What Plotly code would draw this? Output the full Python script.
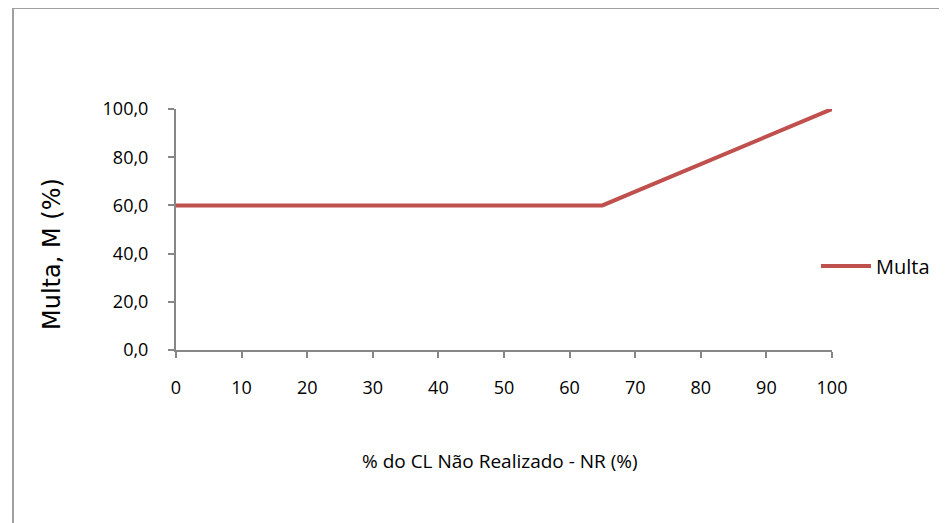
import plotly.graph_objects as go

# Data
nr_percent = [0, 65, 70, 75, 80, 85, 90, 95, 100]
multa = [60.0, 60.0, 65.7, 71.4, 77.1, 82.9, 88.6, 94.3, 100.0]
x_ticks = [0, 10, 20, 30, 40, 50, 60, 70, 80, 90, 100]
y_ticks = [0, 20, 40, 60, 80, 100]
series_name = "Multa"

OFF = 8  # browser default body margin
W, H = 947 - OFF, 523 - OFF
L, R, T, B = 176 - OFF, 832 - OFF, 109 - OFF, 350 - OFF  # plot area pixel bounds
pw, ph = R - L, B - T

def px(xp):
    return (xp - OFF - L) / pw

def py(yp):
    return (B - (yp - OFF)) / ph

fig = go.Figure()
fig.add_trace(go.Scatter(
    x=nr_percent, y=multa, mode="lines", name=series_name,
    line=dict(color="#c0504d", width=4),
))

axis_font = dict(family="Open Sans", size=18, color="#000000")

fig.update_layout(
    width=W, height=H,
    margin=dict(l=L, r=W - R, t=T, b=H - B, pad=0),
    paper_bgcolor="white", plot_bgcolor="white",
    separators=",.",
    showlegend=True,
    legend=dict(
        x=px(816), y=py(266), xanchor="left", yanchor="middle",
        font=dict(family="Open Sans", size=20, color="#000000"),
        bgcolor="rgba(0,0,0,0)", itemwidth=50,
    ),
    xaxis=dict(
        range=[0, 100], tickvals=x_ticks, ticktext=[str(v) for v in x_ticks],
        showgrid=False, zeroline=False, showline=True, linecolor="#868686", linewidth=2,
        ticks="outside", ticklen=6, tickcolor="#868686", tickwidth=2,
        tickfont=axis_font, ticklabelstandoff=14,
    ),
    yaxis=dict(
        range=[0, 100], tickvals=y_ticks, tickformat=".1f",
        showgrid=False, zeroline=False, showline=True, linecolor="#868686", linewidth=2,
        ticks="outside", ticklen=6, tickcolor="#868686", tickwidth=2,
        tickfont=axis_font, ticklabelstandoff=16,
    ),
    shapes=[dict(
        type="rect", xref="paper", yref="paper",
        x0=px(13), x1=px(960), y0=py(540), y1=py(8),
        line=dict(color="#a0a0a0", width=2), fillcolor="rgba(0,0,0,0)", layer="below",
    )],
    annotations=[
        dict(text="Multa, M (%)", xref="paper", yref="paper", x=px(52), y=py(254),
             xanchor="center", yanchor="middle", textangle=-90, showarrow=False,
             font=dict(family="DejaVu Sans", size=24, color="#000000")),
        dict(text="% do CL Não Realizado - NR (%)", xref="paper", yref="paper",
             x=px(500), y=py(461), xanchor="center", yanchor="middle", showarrow=False,
             font=dict(family="Open Sans", size=19, color="#000000")),
    ],
)

fig.write_html("out.html")
